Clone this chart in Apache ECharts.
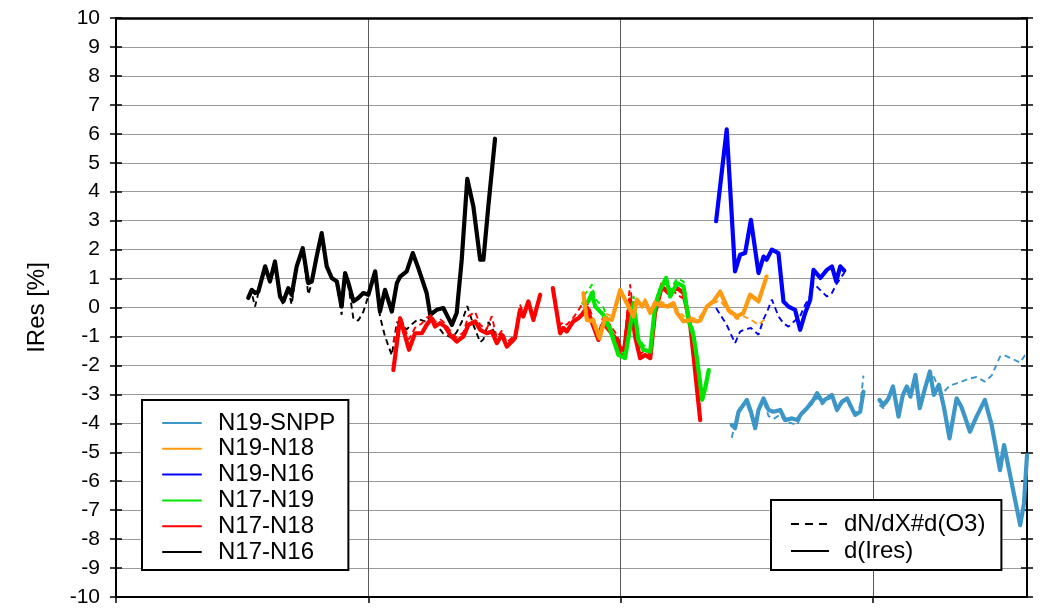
<!DOCTYPE html>
<html>
<head>
<meta charset="utf-8">
<script src="https://cdn.jsdelivr.net/npm/echarts@6/dist/echarts.min.js"></script>
<style>html,body{margin:0;padding:0;background:#fff}#c{width:1050px;height:613px}</style>
</head>
<body>
<div id="c"></div>
<script>
// ---- data (x in axis units: ticks at 0,1,2,3) ----
const yTicks = [-10,-9,-8,-7,-6,-5,-4,-3,-2,-1,0,1,2,3,4,5,6,7,8,9,10];

const N17_N16_x = [0.524,0.538,0.551,0.564,0.591,0.610,0.630,0.650,0.663,0.683,0.696,0.716,0.740,0.762,0.776,0.795,0.815,0.835,0.855,0.875,0.894,0.908,0.921,0.941,0.960,0.980,1.000,1.027,1.046,1.066,1.093,1.113,1.126,1.152,1.176,1.198,1.231,1.245,1.271,1.297,1.331,1.350,1.370,1.392,1.416,1.443,1.456,1.476,1.502];
const N17_N16_dIres = [0.33,0.61,0.50,0.55,1.42,0.90,1.59,0.38,0.21,0.67,0.44,1.42,2.05,0.84,0.90,1.76,2.57,1.42,1.02,0.90,0.03,1.19,0.84,0.21,0.33,0.50,0.44,1.25,-0.14,0.61,-0.14,0.84,1.07,1.25,1.88,1.36,0.50,-0.25,-0.08,-0.02,-0.60,-0.19,1.65,4.44,3.50,1.65,1.65,3.55,5.83];
const N17_N16_dNdX = [0.30,0.50,0.03,0.50,1.35,0.85,1.50,0.35,0.10,0.60,0.10,1.35,2.00,0.45,0.85,1.70,2.50,1.40,1.00,0.85,-0.25,1.10,0.75,-0.40,-0.45,-0.15,0.40,1.20,-0.30,-1.00,-1.65,-0.50,-0.60,-0.75,-0.55,-0.40,-0.50,-0.30,-0.60,-0.90,-1.05,-0.85,-0.50,0.05,-0.60,-1.20,-1.10,-0.50,-0.90];

const N17_N18_x1 = [1.099,1.126,1.161,1.185,1.212,1.231,1.251,1.264,1.284,1.304,1.324,1.350,1.377,1.396,1.423,1.443,1.469,1.489,1.509,1.529,1.549,1.581,1.601,1.614,1.634,1.654,1.681];
const N17_N18_dIres1 = [-2.16,-0.37,-1.46,-0.89,-0.89,-0.60,-0.37,-0.66,-0.54,-0.66,-0.94,-1.18,-1.00,-0.60,-0.48,-0.77,-0.89,-0.83,-1.23,-0.94,-1.35,-1.06,-0.08,-0.31,0.21,-0.43,0.44];
const N17_N18_dNdX1 = [-1.20,-0.30,-1.10,-0.70,-0.55,-0.35,-0.25,-0.50,-0.40,-0.55,-0.80,-1.05,-0.85,-0.30,-0.15,-0.60,-0.75,-0.30,-1.05,-0.80,-1.20,-0.95,0.10,-0.20,0.25,-0.30,0.40];
const N17_N18_x2 = [1.731,1.760,1.773,1.786,1.812,1.832,1.846,1.866,1.892,1.912,1.931,1.958,1.985,2.011,2.037,2.057,2.077,2.097,2.117,2.136,2.163,2.189,2.223,2.249,2.276,2.289,2.315];
const N17_N18_dIres2 = [0.67,-0.89,-0.71,-0.83,-0.48,-0.37,-0.25,0.00,-0.66,-1.12,-0.54,-0.83,-1.12,-1.70,0.27,-1.00,-1.75,-1.64,-1.75,-0.19,0.73,0.50,0.67,0.50,-0.66,-1.70,-3.89];
const N17_N18_dNdX2 = [0.50,-0.60,-0.50,-0.60,-0.35,-0.10,0.10,0.20,-0.40,-0.90,-0.30,-0.60,-0.95,-1.50,0.80,-0.70,-1.60,-1.50,-1.60,0.00,0.90,0.75,0.45,0.30,-0.40,-1.40,-3.60];

const N17_N19_x = [1.852,1.872,1.886,1.899,1.931,1.958,1.991,2.017,2.037,2.051,2.070,2.090,2.117,2.136,2.156,2.180,2.196,2.223,2.249,2.269,2.289,2.303,2.323,2.336,2.349];
const N17_N19_dIres = [0.15,0.21,0.50,0.03,-0.25,-0.77,-1.64,-1.75,-0.71,0.15,-1.12,-1.46,-1.52,0.03,0.61,1.02,0.38,0.84,0.73,-0.43,-1.00,-1.81,-3.19,-2.73,-2.16];
const N17_N19_dNdX = [0.40,0.60,0.80,0.30,0.00,-0.60,-1.50,-1.60,-0.50,0.40,-1.00,-1.30,-1.40,0.20,0.70,0.95,0.60,1.00,0.90,-0.20,-0.80,-1.60,-3.00,-2.60,-2.10];

const N19_N16_x = [2.378,2.420,2.453,2.473,2.493,2.516,2.546,2.566,2.578,2.599,2.625,2.645,2.665,2.691,2.711,2.731,2.751,2.764,2.791,2.817,2.837,2.854,2.870,2.886];
const N19_N16_dIres = [2.98,6.15,1.25,1.82,1.88,3.03,1.19,1.76,1.65,2.00,1.88,0.21,0.03,-0.08,-0.77,-0.19,0.27,1.30,1.02,1.30,1.42,0.90,1.42,1.27];
const N19_N16_dNdX = [-0.02,-0.60,-1.23,-0.83,-0.75,-0.71,-0.94,-0.40,-0.19,0.27,-0.30,-0.55,-0.66,-0.45,-0.30,0.10,0.40,0.84,0.60,0.38,0.50,0.80,1.00,1.20];

const N19_N18_x = [1.852,1.866,1.892,1.916,1.938,1.965,1.998,2.017,2.051,2.064,2.084,2.097,2.117,2.136,2.156,2.189,2.209,2.223,2.249,2.276,2.303,2.315,2.341,2.367,2.394,2.427,2.460,2.486,2.513,2.546,2.578];
const N19_N18_dIres = [0.50,-0.43,-0.48,-1.06,-0.37,-0.43,0.61,0.27,-0.31,0.27,0.03,0.21,-0.19,0.15,0.09,0.03,0.15,-0.19,-0.48,-0.43,-0.48,-0.45,0.03,0.21,0.55,-0.08,-0.31,-0.19,0.44,0.21,1.07];
const N19_N18_dNdX = [0.20,-0.30,-0.40,-0.90,-0.20,-0.30,0.45,0.35,-0.20,0.30,0.10,0.30,-0.10,0.25,0.20,0.10,0.20,-0.05,-0.30,-0.35,-0.40,-0.30,0.00,0.15,0.25,-0.15,-0.40,-0.30,-0.40,-0.60,-0.35];

const N19_SNPP_x1 = [2.440,2.453,2.467,2.500,2.516,2.533,2.546,2.566,2.586,2.606,2.632,2.652,2.679,2.699,2.718,2.738,2.764,2.778,2.798,2.817,2.837,2.857,2.877,2.897,2.913,2.929,2.949,2.962];
const N19_SNPP_dIres1 = [-4.06,-4.17,-3.60,-3.19,-3.60,-4.17,-3.54,-3.14,-3.54,-3.60,-3.54,-3.89,-3.83,-3.89,-3.65,-3.48,-3.19,-2.96,-3.25,-3.14,-3.02,-3.54,-3.25,-3.14,-3.43,-3.71,-3.60,-2.91];
const N19_SNPP_dNdX1 = [-4.50,-4.00,-3.50,-3.35,-3.70,-4.10,-3.55,-3.25,-3.75,-3.85,-3.70,-3.95,-4.00,-4.05,-3.70,-3.50,-3.30,-3.10,-3.35,-3.20,-3.10,-3.45,-3.30,-3.20,-3.50,-3.65,-3.40,-2.35];
const N19_SNPP_x2 = [3.025,3.041,3.061,3.079,3.101,3.118,3.134,3.148,3.168,3.185,3.204,3.225,3.241,3.261,3.282,3.303,3.331,3.350,3.384,3.410,3.443,3.470,3.503,3.519,3.583,3.598,3.610];
const N19_SNPP_dIres2 = [-3.19,-3.37,-3.14,-2.73,-3.77,-3.02,-2.73,-3.08,-2.33,-3.48,-2.85,-2.21,-3.02,-2.67,-3.50,-4.52,-3.14,-3.43,-4.29,-3.77,-3.19,-4.06,-5.62,-4.75,-7.52,-6.77,-5.10];
const N19_SNPP_dNdX2 = [-3.37,-3.48,-3.20,-2.80,-3.60,-3.00,-2.80,-3.00,-2.40,-3.40,-2.85,-2.25,-2.40,-2.80,-2.90,-2.70,-2.62,-2.56,-2.45,-2.40,-2.56,-2.35,-1.70,-1.64,-1.90,-1.70,-1.55];

const pairNames = ['N19-SNPP','N19-N18','N19-N16','N17-N19','N17-N18','N17-N16'];
const styleNames = ['dN/dX#d(O3)','d(Ires)'];

// ---- build ----
const FONT = "'Liberation Sans', Arial, Helvetica, sans-serif";
function pairs(xs, ys){ return xs.map((x,i)=>[x, ys[i]]); }
function joinSegs(){ const out=[]; for(let i=0;i<arguments.length;i++){ if(i>0) out.push([null,'-']); out.push(...arguments[i]); } return out; }

function solid(name, color, data, z){
  return {name, type:'line', data, symbol:'none', showSymbol:false, connectNulls:false,
    lineStyle:{color, width:4.2, type:'solid', join:'round', cap:'round'}, itemStyle:{color},
    silent:true, animation:false, z};
}
function dashed(name, color, data, z){
  return {name: name+' dN', type:'line', data, symbol:'none', showSymbol:false, connectNulls:false,
    lineStyle:{color, width:1.9, type:[6,4]}, itemStyle:{color},
    silent:true, animation:false, z};
}

const C = {snpp:'#3c96c8', n18:'#ff9a10', n16:'#0000ff', n19:'#00e600', n17n18:'#ff0000', n17n16:'#000000'};

const series = [
  solid('N17-N16', C.n17n16, pairs(N17_N16_x, N17_N16_dIres), 2),
  dashed('N17-N16', C.n17n16, pairs(N17_N16_x, N17_N16_dNdX), 2),
  solid('N17-N18', C.n17n18, joinSegs(pairs(N17_N18_x1,N17_N18_dIres1), pairs(N17_N18_x2,N17_N18_dIres2)), 3),
  dashed('N17-N18', C.n17n18, joinSegs(pairs(N17_N18_x1,N17_N18_dNdX1), pairs(N17_N18_x2,N17_N18_dNdX2)), 3),
  solid('N17-N19', C.n19, pairs(N17_N19_x, N17_N19_dIres), 4),
  dashed('N17-N19', C.n19, pairs(N17_N19_x, N17_N19_dNdX), 4),
  solid('N19-N16', C.n16, pairs(N19_N16_x, N19_N16_dIres), 5),
  dashed('N19-N16', C.n16, pairs(N19_N16_x, N19_N16_dNdX), 5),
  solid('N19-N18', C.n18, pairs(N19_N18_x, N19_N18_dIres), 6),
  dashed('N19-N18', C.n18, pairs(N19_N18_x, N19_N18_dNdX), 6),
  solid('N19-SNPP', C.snpp, joinSegs(pairs(N19_SNPP_x1,N19_SNPP_dIres1), pairs(N19_SNPP_x2,N19_SNPP_dIres2)), 7),
  dashed('N19-SNPP', C.snpp, joinSegs(pairs(N19_SNPP_x1,N19_SNPP_dNdX1), pairs(N19_SNPP_x2,N19_SNPP_dNdX2)), 7),
  {name: styleNames[0], type:'line', data:[], symbol:'none', lineStyle:{color:'#000', width:2, type:[8,6]}, itemStyle:{color:'#000'}},
  {name: styleNames[1], type:'line', data:[], symbol:'none', lineStyle:{color:'#000', width:1.5, type:'solid'}, itemStyle:{color:'#000'}}
];

const yCommon = {type:'value', min:-10, max:10, interval:1};
const option = {
  backgroundColor:'#fff',
  animation:false,
  textStyle:{fontFamily:FONT},
  grid:{left:116, right:23, top:18, bottom:16, containLabel:false},
  xAxis:[
    {type:'value', position:'bottom', min:0, max:3.61, interval:1,
     axisLine:{show:true, onZero:false, lineStyle:{color:'#000', width:2}},
     axisTick:{show:true, inside:false, length:6, lineStyle:{color:'#000', width:1.5}, customValues:[0,1,2,3]},
     axisLabel:{show:false},
     splitLine:{show:true, lineStyle:{color:'#5a5a5a', width:1}}},
    {type:'value', position:'top', min:0, max:3.61, interval:1,
     axisLine:{show:true, onZero:false, lineStyle:{color:'#000', width:2.5}},
     axisTick:{show:false}, axisLabel:{show:false}, splitLine:{show:false}}
  ],
  yAxis:[
    Object.assign({}, yCommon, {position:'left',
     name:'IRes [%]', nameLocation:'middle', nameRotate:90, nameGap:67,
     nameTextStyle:{fontSize:24, color:'#000', fontFamily:FONT},
     axisLine:{show:true, onZero:false, lineStyle:{color:'#000', width:2}},
     axisTick:{show:true, inside:false, length:6, lineStyle:{color:'#000', width:1.5}},
     axisLabel:{show:true, fontSize:21, color:'#000', margin:16, fontFamily:FONT,
       formatter: v => yTicks.includes(v) ? String(v) : ''},
     splitLine:{show:true, lineStyle:{color:'#9a9a9a', width:1.2}}}),
    Object.assign({}, yCommon, {position:'left',
     axisLine:{show:false, onZero:false}, axisTick:{show:true, inside:true, length:6, lineStyle:{color:'#000', width:1.5}},
     axisLabel:{show:false}, splitLine:{show:false}}),
    Object.assign({}, yCommon, {position:'right',
     axisLine:{show:true, onZero:false, lineStyle:{color:'#000', width:2}}, axisTick:{show:true, inside:true, length:6, lineStyle:{color:'#000', width:1.5}},
     axisLabel:{show:false}, splitLine:{show:false}}),
    Object.assign({}, yCommon, {position:'right',
     axisLine:{show:false, onZero:false}, axisTick:{show:true, inside:false, length:6, lineStyle:{color:'#000', width:1.5}},
     axisLabel:{show:false}, splitLine:{show:false}})
  ],
  legend:[
    {data: pairNames, orient:'vertical', left:142, top:400, selectedMode:false,
     backgroundColor:'#fff', borderColor:'#000', borderWidth:2, borderRadius:0,
     padding:[11,13,6,20], itemGap:1.8, itemWidth:38, itemHeight:14,
     lineStyle:{width:2}, itemStyle:{opacity:0},
     textStyle:{fontSize:24, color:'#000', fontFamily:FONT, lineHeight:24, padding:[0,0,0,12]}},
    {data: styleNames, orient:'vertical', left:771, top:500, selectedMode:false,
     backgroundColor:'#fff', borderColor:'#000', borderWidth:2, borderRadius:0,
     padding:[12,16,7,19], itemGap:3, itemWidth:38, itemHeight:14,
     itemStyle:{opacity:0},
     textStyle:{fontSize:24, color:'#000', fontFamily:FONT, lineHeight:24, padding:[0,0,0,10]}}
  ],
  series: series
};

const chart = echarts.init(document.getElementById('c'), null, {renderer:'canvas'});
chart.setOption(option);
</script>
</body>
</html>
